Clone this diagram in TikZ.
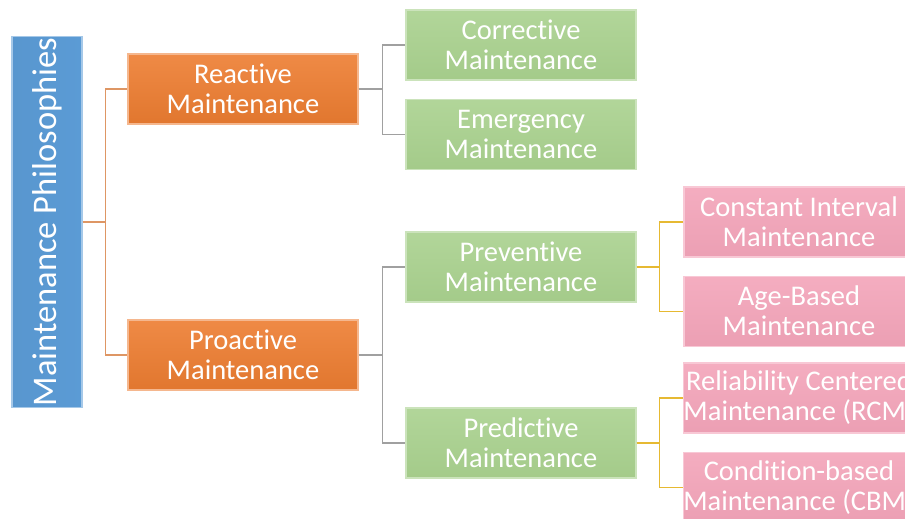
\documentclass[tikz,border=0pt]{standalone}
\usepackage{fontspec}
\setmainfont[Ligatures={NoCommon}]{Carlito}
\usepackage{tikz}
\usetikzlibrary{positioning}
\definecolor{rootblue}{RGB}{91,155,213}
\definecolor{reactorange}{RGB}{237,125,49}
\definecolor{leafgreen}{RGB}{169,209,142}
\definecolor{leafpink}{RGB}{243,164,185}
\definecolor{linetan}{RGB}{222,150,100}
\definecolor{linegray}{RGB}{160,160,160}
\definecolor{linegold}{RGB}{230,185,50}

\begin{document}
\begin{tikzpicture}[x=1pt,y=-1pt,line width=1.2pt,
  main node/.style={rectangle,minimum width=230pt,minimum height=70pt,
    align=center,text=white,inner sep=0pt,
    font=\fontsize{28.5}{30}\selectfont},
  orange node/.style={main node,top color=reactorange!90!white,
    bottom color=reactorange!95!black,draw=reactorange!55!white},
  green node/.style={main node,top color=leafgreen!90!white,
    bottom color=leafgreen!97!black,draw=leafgreen!60!white},
  pink node/.style={main node,top color=leafpink!90!white,
    bottom color=leafpink!97!black,draw=leafpink!60!white}]

  \useasboundingbox (0,0) rectangle (905,519);
  \clip (0,0) rectangle (905,519);

  \node[rectangle,rotate=90,left color=rootblue!97!black,right color=rootblue,
    draw=rootblue!55!white,
    minimum width=371pt,minimum height=70pt,inner sep=0pt,text=white,
    font=\fontsize{34.5}{36}\selectfont] (1) at (47,222) {Maintenance Philosophies};

  \node[orange node] (2) at (243,89) {Reactive\\Maintenance};
  \node[orange node] (3) at (243,355) {Proactive\\Maintenance};

  \node[green node] (4) at (521,45) {Corrective\\Maintenance};
  \node[green node] (5) [below=18pt of 4] {Emergency\\Maintenance};
  \node[green node] (6) at (521,267) {Preventive\\Maintenance};
  \node[green node] (7) at (521,443) {Predictive\\Maintenance};

  \node[pink node] (8) at (799,222) {Constant Interval\\Maintenance};
  \node[pink node] (9) [below=18pt of 8] {Age-Based\\Maintenance};
  \node[pink node] (10) at (799,398) {Reliability Centered\\Maintenance (RCM)};
  \node[pink node] (11) [below=18pt of 10] {Condition-based\\Maintenance (CBM)};

  % root to reactive / proactive
  \draw[linetan] (1.south) -- ++(23,0) |- (2.west);
  \draw[linetan] (1.south) -- ++(23,0) |- (3.west);

  \draw[linegray] (2.east) -- ++(24,0) |- (4.west);
  \draw[linegray] (2.east) -- ++(24,0) |- (5.west);
  \draw[linegray] (3.east) -- ++(24,0) |- (6.west);
  \draw[linegray] (3.east) -- ++(24,0) |- (7.west);

  \draw[linegold] (6.east) -- ++(23,0) |- (8.west);
  \draw[linegold] (6.east) -- ++(23,0) |- (9.west);
  \draw[linegold] (7.east) -- ++(23,0) |- (10.west);
  \draw[linegold] (7.east) -- ++(23,0) |- (11.west);
\end{tikzpicture}
\end{document}
